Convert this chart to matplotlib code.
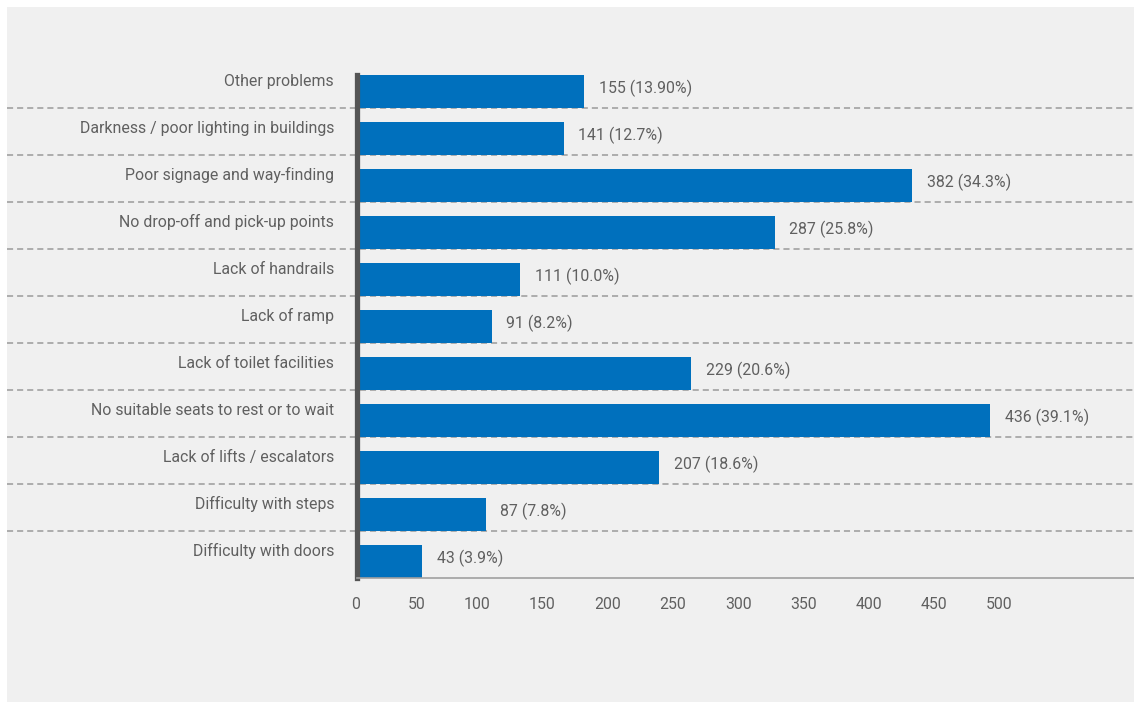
import matplotlib.pyplot as plt
from matplotlib.patches import Rectangle

# categories listed from bottom to top
categories = [
    "Difficulty with doors",
    "Difficulty with steps",
    "Lack of lifts / escalators",
    "No suitable seats to rest or to wait",
    "Lack of toilet facilities",
    "Lack of ramp",
    "Lack of handrails",
    "No drop-off and pick-up points",
    "Poor signage and way-finding",
    "Darkness / poor lighting in buildings",
    "Other problems",
]
counts = [43, 87, 207, 436, 229, 91, 111, 287, 382, 141, 155]
value_labels = [
    "43 (3.9%)", "87 (7.8%)", "207 (18.6%)", "436 (39.1%)", "229 (20.6%)",
    "91 (8.2%)", "111 (10.0%)", "287 (25.8%)", "382 (34.3%)", "141 (12.7%)",
    "155 (13.90%)",
]
tick_values = [0, 50, 100, 150, 200, 250, 300, 350, 400, 450, 500]

plt.rcParams['font.family'] = ['Roboto', 'DejaVu Sans']
txt_color = '#606060'
bar_color = '#0070bd'
fs = 11.4

fig = plt.figure(figsize=(11.34, 7.02), dpi=100, facecolor='white')
fig.patches.append(Rectangle((7 / 1134, 0), 1 - 7 / 1134, 1 - 7 / 702,
                             transform=fig.transFigure, facecolor='#f0f0f0',
                             edgecolor='none', zorder=-10))

ax = fig.add_axes([357 / 1134, 1 - 578 / 702, 1 - 357 / 1134, (578 - 61) / 702])
ax.set_facecolor('none')

ypos = list(range(len(categories)))
bar_h = 0.70
ax.barh([y - 0.5 for y in ypos], counts, height=bar_h, align='edge',
        color=bar_color, zorder=2)

for y, c, lab in zip(ypos, counts, value_labels):
    ax.annotate(lab, (c, y - 0.15), xytext=(10.5, 2), textcoords='offset points',
                ha='left', va='center', fontsize=fs, color=txt_color)

# dashed row separators running into the label area
for y in ypos[:-1]:
    ax.axhline(y + 0.5, xmin=-(357 - 7) / (1134 - 357), xmax=1, color='#9a9a9a',
               lw=1.1, linestyle=(0, (4, 2.6)), clip_on=False, zorder=1)

ax.set_xlim(-2.1, 535.6)
ax.set_ylim(-0.5, len(categories) - 0.5)

ax.set_yticks([y + 0.1 for y in ypos], labels=categories)
ax.tick_params(axis='y', length=0, pad=16.5, labelsize=fs, labelcolor=txt_color)
ax.set_xticks([])

for side in ['top', 'right']:
    ax.spines[side].set_visible(False)
ax.spines['left'].set_color('#555555')
ax.spines['left'].set_linewidth(3.8)
ax.spines['left'].set_bounds(-0.5, ypos[-1] - 0.5 + bar_h)
ax.spines['bottom'].set_color('#a0a0a0')
ax.spines['bottom'].set_linewidth(1.2)

# axis labels are spaced on their own scale in the original chart
ratio = 1.305 / 1.445
sec = ax.secondary_xaxis('bottom', functions=(lambda x: x / ratio, lambda t: t * ratio))
sec.set_xticks(tick_values, labels=[str(v) for v in tick_values])
sec.tick_params(length=0, pad=14, labelsize=fs, labelcolor=txt_color)
for lab in sec.get_xticklabels():
    lab.set_ha('right')
sec.spines['bottom'].set_visible(False)

fig.savefig('out.png', dpi=100, facecolor=fig.get_facecolor())
